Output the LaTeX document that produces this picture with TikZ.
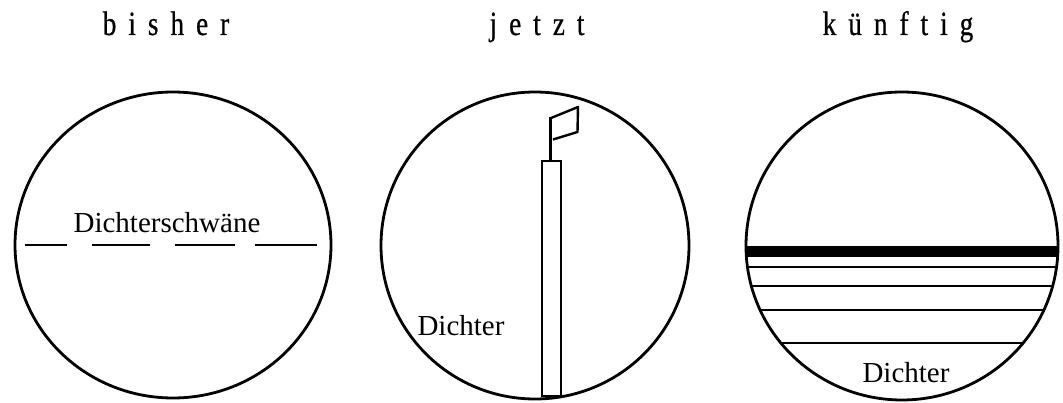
\documentclass[tikz,border=0pt]{standalone}
\usepackage{fontspec}
\setmainfont{Liberation Serif}
\newfontfamily\titlefont[FakeStretch=0.8,FakeBold=0.6]{Liberation Serif}
\newcommand\ltsp{\kern12pt}
\begin{document}
\begin{tikzpicture}[x=1pt,y=-1pt,
  ring/.style={line width=2.8pt},
  thinline/.style={line width=2.2pt},
  title/.style={font=\titlefont\fontsize{34}{40}\selectfont, anchor=base, inner sep=0pt},
  label/.style={font=\fontsize{29}{34}\selectfont, anchor=base, inner sep=0pt}]
\useasboundingbox (0,0) rectangle (1063,403);
% titles
\node[title] (t1) at (166,35) {b\ltsp i\ltsp s\ltsp h\ltsp e\ltsp r};
\node[title] (t2) at (537,35) {j\ltsp e\ltsp t\ltsp z\ltsp t};
\node[title] (t3) at (898,35) {k\ltsp ü\ltsp n\ltsp f\ltsp t\ltsp i\ltsp g};
% circle 1
\draw[ring] (173,245) ellipse [x radius=158, y radius=153];
\node[label] (l1) at (167,233) {Dichterschwäne};
\draw[thinline] (25,245) -- (67,245);
\draw[thinline] (92,245) -- (150,245);
\draw[thinline] (175,245) -- (235,245);
\draw[thinline] (255,245) -- (317,245);
% circle 2
\draw[ring] (535,245.5) ellipse [x radius=154, y radius=153.5];
\draw[line width=2.4pt] (542,161) rectangle (561,396);
\draw[line width=3.5pt] (550.5,161) -- (550.5,117);
\draw[line width=2.4pt, line join=round] (551,118) -- (578,107) -- (577.5,132) -- (553,139.5);
\node[label] (l2) at (461,336) {Dichter};
% circle 3
\begin{scope}
  \clip (902,246) ellipse [x radius=156, y radius=154];
  \fill (740,246) rectangle (1063,257);
  \draw[thinline] (740,267) -- (1063,267);
  \draw[thinline] (740,286) -- (1063,286);
  \draw[thinline] (740,310) -- (1063,310);
  \draw[thinline] (740,343) -- (1063,343);
\end{scope}
\draw[ring] (902,246) ellipse [x radius=156, y radius=154];
\node[label] (l3) at (906,382) {Dichter};
\end{tikzpicture}
\end{document}
